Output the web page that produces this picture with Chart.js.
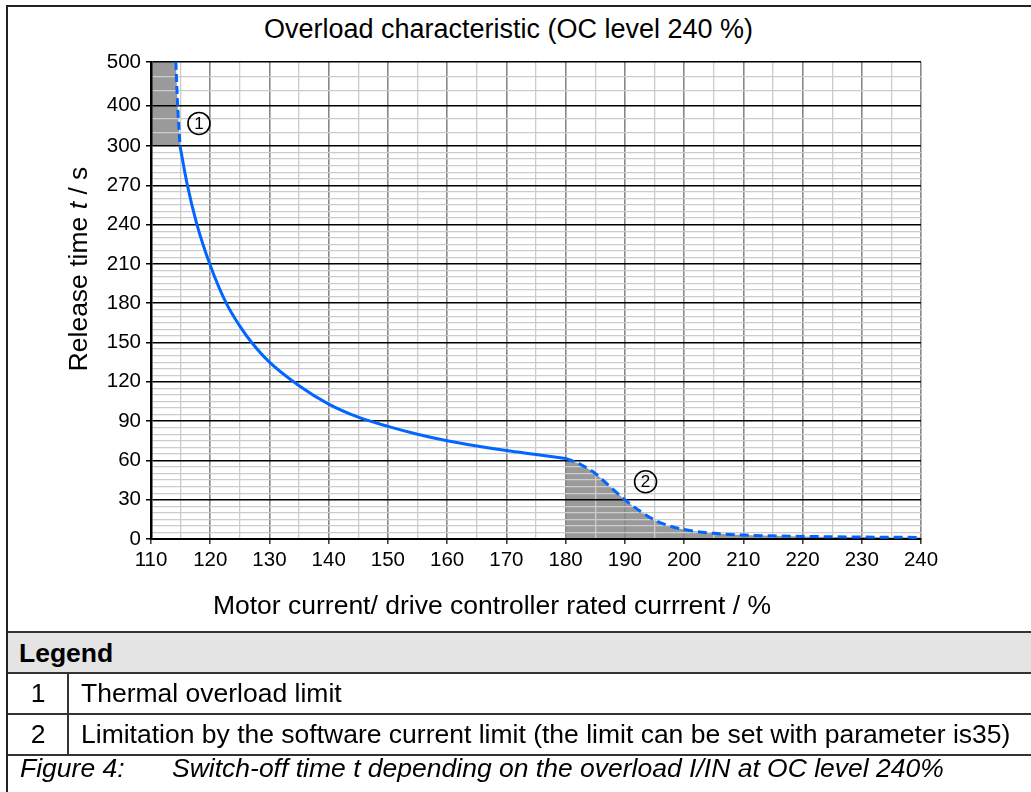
<!DOCTYPE html>
<html>
<head>
<meta charset="utf-8">
<script src="https://cdn.jsdelivr.net/npm/chart.js@4.4.1/dist/chart.umd.min.js"></script>
<style>
  html, body { margin: 0; padding: 0; background: #fff; }
  body { width: 1031px; height: 792px; position: relative; overflow: hidden;
         font-family: "Liberation Sans", Arial, sans-serif; color: #000; }
  .abs { position: absolute; white-space: nowrap; }
  #frame { left: 6px; top: 5px; width: 1100px; height: 800px;
           border-top: 2px solid #222; border-left: 2px solid #222; }
  #c { position: absolute; left: 7px; top: 6px; }
  #title { left: 0; width: 1017px; top: 14px; height: 30px; line-height: 30px;
           text-align: center; font-size: 27px; }
  #xtitle { left: 0; width: 984px; top: 590px; height: 30px; line-height: 30px;
            text-align: center; font-size: 26.5px; }
  #ytitle { left: -72px; top: 254px; width: 300px; height: 30px; line-height: 30px;
            text-align: center; font-size: 26.5px; transform: rotate(-90deg); }
  .line { position: absolute; background: #333; }
  #head { left: 8px; top: 631px; width: 1100px; height: 43px; box-sizing: border-box;
          background: #e4e4e4; border-top: 2px solid #333; border-bottom: 2px solid #333; }
  .cell { height: 41px; line-height: 41px; font-size: 26.5px; }
</style>
</head>
<body>
<div id="frame" class="abs"></div>
<div id="title" class="abs">Overload characteristic (OC level 240 %)</div>
<canvas id="c" width="1024" height="626"></canvas>
<div id="ytitle" class="abs">Release time <i>t</i> / s</div>
<div id="xtitle" class="abs">Motor current/ drive controller rated currrent / %</div>

<div id="head" class="abs"></div>
<div class="abs cell" style="left:19px; top:633px; font-weight:bold;">Legend</div>
<div class="line" style="left:8px; top:713px; width:1100px; height:2px;"></div>
<div class="line" style="left:8px; top:754px; width:1100px; height:2px;"></div>
<div class="line" style="left:67px; top:674px; width:2px; height:80px;"></div>
<div class="abs cell" style="left:8px; width:60px; text-align:center; top:673px;">1</div>
<div class="abs cell" style="left:81px; top:673px;">Thermal overload limit</div>
<div class="abs cell" style="left:8px; width:60px; text-align:center; top:714px;">2</div>
<div class="abs cell" style="left:81px; top:714px;">Limitation by the software current limit (the limit can be set with parameter is35)</div>
<div class="abs cell" style="left:20px; top:750px; height:37px; line-height:37px; font-style:italic;">Figure 4:</div>
<div class="abs cell" style="left:172px; top:750px; height:37px; line-height:37px; font-style:italic;">Switch-off time t depending on the overload I/IN at OC level 240%</div>

<script>
// motor current in %, release time in s
const thermalCurrent = [114.9, 116.1, 117.7, 120, 122.7, 125, 127, 130, 135, 140, 145, 150, 155, 160, 165, 170, 175, 180];
const thermalTime    = [300, 271, 241, 209, 180, 162.5, 150, 135, 117, 103, 93, 86, 80, 75, 71, 67.5, 64.5, 61.5];

const thermalTopCurrent = [114.2, 114.5, 114.9];
const thermalTopTime    = [500, 400, 300];

const thermalAreaCurrent = [110, 114.2, 114.5, 114.9];
const thermalAreaTime    = [500, 500, 400, 300];

const softCurrent = [180, 182.5, 185, 187.5, 190, 192.5, 195, 197.5, 200, 205, 210, 220, 230, 240];
const softTime    = [61.5, 57, 50, 40, 30, 21.5, 14.5, 10, 7.2, 4.3, 3, 2, 1.5, 1.2];

const xTickLabels = [110, 120, 130, 140, 150, 160, 170, 180, 190, 200, 210, 220, 230, 240];
const yTickLabels = [0, 30, 60, 90, 120, 150, 180, 210, 240, 270, 300, 400, 500];

const markerCurrent = [118.1, 193.5];
const markerTime    = [356, 43.7];
const markerLabels  = ['1', '2'];

// the time axis is split: 0..300 in steps of 30, above that in steps of 100
// (the 100 s steps are drawn a little taller than the 30 s steps)
function toAxis(t) {
    if (t <= 300) return t / 30;
    if (t <= 400) return 10 + (t - 300) / 100 * 1.026;
    return 11.026 + (t - 400) / 100 * 1.112;
}

function points(xs, ts) {
    return xs.map((x, i) => ({ x: x, y: toAxis(ts[i]) }));
}

// grid: minor line every 5 s up to 300, then every third of 100 s
const yGrid = [];
for (let t = 0; t < 300; t += 5) yGrid.push(toAxis(t));
for (let k = 0; k <= 6; k++) yGrid.push(toAxis(300 + k * 100 / 3));

const near = (a, b) => Math.abs(a - b) < 1e-6;
const labelAt = v => yTickLabels.find(t => near(toAxis(t), v));
const font = '"Liberation Sans", Arial, sans-serif';
const blue = '#0066ff';
const shade = '#9a9a9a';

const markers = {
    id: 'markers',
    afterDatasetsDraw(chart) {
        const { ctx, scales } = chart;
        markerLabels.forEach((label, i) => {
            const px = scales.x.getPixelForValue(markerCurrent[i]);
            const py = scales.y.getPixelForValue(toAxis(markerTime[i]));
            ctx.save();
            ctx.beginPath();
            ctx.arc(px, py, 11, 0, Math.PI * 2);
            ctx.lineWidth = 1.6;
            ctx.strokeStyle = '#000';
            ctx.stroke();
            ctx.fillStyle = '#000';
            ctx.font = '17px ' + font;
            ctx.textAlign = 'center';
            ctx.textBaseline = 'middle';
            ctx.fillText(label, px, py + 1);
            ctx.restore();
        });
    }
};

new Chart(document.getElementById('c'), {
    type: 'line',
    data: {
        datasets: [
            {
                label: 'thermal area',
                data: points(thermalAreaCurrent, thermalAreaTime),
                borderWidth: 0,
                backgroundColor: shade,
                fill: { value: toAxis(300) },
                pointRadius: 0
            },
            {
                label: 'thermal limit top',
                data: points(thermalTopCurrent, thermalTopTime),
                borderColor: blue,
                borderWidth: 3,
                borderDash: [8, 4],
                fill: false,
                pointRadius: 0,
                tension: 0.3
            },
            {
                label: 'thermal overload limit',
                data: points(thermalCurrent, thermalTime),
                borderColor: blue,
                borderWidth: 3,
                fill: false,
                pointRadius: 0,
                cubicInterpolationMode: 'monotone'
            },
            {
                label: 'software current limit',
                data: points(softCurrent, softTime),
                borderColor: blue,
                borderWidth: 3,
                borderDash: [9, 5],
                backgroundColor: shade,
                fill: 'origin',
                pointRadius: 0,
                cubicInterpolationMode: 'monotone'
            }
        ]
    },
    options: {
        responsive: false,
        animation: false,
        layout: { padding: { top: 56, right: 110, bottom: 53, left: 0 } },
        plugins: {
            legend: { display: false },
            tooltip: { enabled: false },
            filler: { drawTime: 'beforeDraw' }
        },
        scales: {
            x: {
                type: 'linear',
                min: 110,
                max: 240,
                afterFit: axis => { axis.height = 40; },
                ticks: {
                    stepSize: 5,
                    autoSkip: false,
                    maxRotation: 0,
                    padding: 4,
                    color: '#000',
                    font: { family: font, size: 20.5 },
                    callback: v => xTickLabels.includes(v) ? String(v) : ''
                },
                grid: {
                    color: ctx => ctx.tick.value % 10 === 0 ? '#888888' : '#cccccc',
                    lineWidth: ctx => ctx.tick.value % 10 === 0 ? 1.6 : 1.3,
                    tickLength: 5,
                    tickColor: ctx => ctx.tick.value % 10 === 0 ? '#333' : 'rgba(0,0,0,0)',
                    tickWidth: 1.5
                },
                border: { color: '#000', width: 2 }
            },
            y: {
                type: 'linear',
                min: 0,
                max: toAxis(500),
                afterBuildTicks: axis => { axis.ticks = yGrid.map(v => ({ value: v })); },
                afterFit: axis => { axis.width = 144; },
                ticks: {
                    autoSkip: false,
                    padding: 5,
                    color: '#000',
                    font: { family: font, size: 20.5 },
                    callback: v => {
                        const t = labelAt(v);
                        return t === undefined ? '' : String(t);
                    }
                },
                grid: {
                    color: ctx => labelAt(ctx.tick.value) !== undefined ? '#000' : '#cccccc',
                    lineWidth: ctx => labelAt(ctx.tick.value) !== undefined ? 1.5 : 1.3,
                    tickLength: 5,
                    tickColor: ctx => labelAt(ctx.tick.value) !== undefined ? '#000' : 'rgba(0,0,0,0)',
                    tickWidth: 1.5
                },
                border: { color: '#000', width: 2.5 }
            }
        }
    },
    plugins: [markers]
});
</script>
</body>
</html>
